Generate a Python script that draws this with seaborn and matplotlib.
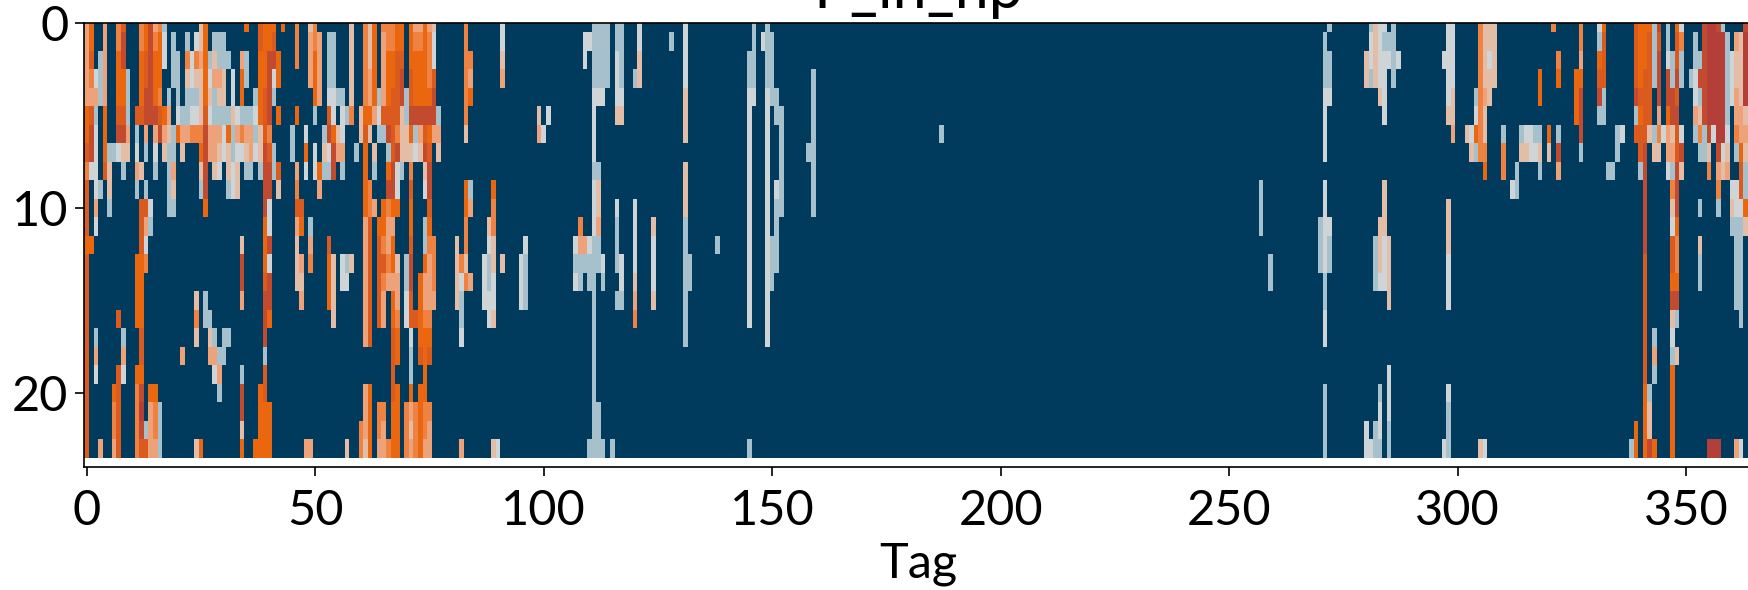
import numpy as np
import matplotlib
matplotlib.use("Agg")
import matplotlib.pyplot as plt
from matplotlib.colors import ListedColormap
import seaborn as sns

# Werte: (erster Tag, Stufen ab diesem Tag), 0 = kein Betrieb
hour_00 = [(0,"46"),(4,"4"),(7,"57"),(12,"568451"),(25,"36"),(35,"6"),(38,"7666"),(43,"6"),(46,"5"),(49,"35"),(58,"3"),(61,"536"),(65,"55566"),(71,"644643"),(83,"5"),(91,"2"),(111,"1111"),(116,"11"),(121,"2"),(131,"2"),(146,"1"),(149,"1"),(272,"1"),(281,"1322"),(286,"1"),(298,"22"),(305,"5333"),(321,"5"),(327,"5"),(331,"26"),(339,"7666"),(343,"18"),(346,"1"),(348,"62"),(354,"8998"),(358,"1"),(363,"8")]
hour_01 = [(0,"46"),(4,"4"),(7,"58"),(12,"568562"),(19,"1"),(22,"1"),(24,"236"),(28,"111"),(38,"7667"),(46,"5"),(49,"454"),(53,"11"),(58,"3"),(61,"536"),(65,"45566"),(71,"655652"),(83,"5"),(91,"2"),(109,"22"),(111,"1111"),(116,"11"),(121,"2"),(128,"1"),(131,"2"),(146,"1"),(148,"211"),(271,"1"),(281,"232111"),(298,"22"),(305,"5333"),(327,"5"),(331,"17"),(339,"76671"),(344,"7"),(346,"1"),(348,"75"),(352,"1"),(354,"899991"),(361,"4399")]
hour_02 = [(0,"47"),(3,"14"),(7,"68"),(12,"67866"),(17,"2"),(19,"11"),(22,"5254613111"),(34,"41"),(38,"66886"),(46,"5"),(49,"464"),(53,"11"),(58,"3"),(61,"536"),(65,"46677"),(71,"666652"),(83,"55"),(91,"3"),(109,"2"),(111,"1111"),(116,"21"),(121,"3"),(131,"2"),(145,"11"),(149,"11"),(271,"11"),(280,"32322212"),(297,"222"),(305,"5323"),(322,"5"),(327,"4"),(331,"67"),(339,"76671"),(344,"8"),(346,"2171"),(352,"1189999123399")]
hour_03 = [(0,"45214"),(7,"661"),(12,"67866"),(19,"11"),(22,"323362443"),(32,"2"),(34,"61"),(38,"66826"),(49,"464"),(53,"11"),(58,"3"),(61,"546"),(65,"46678"),(71,"766657"),(83,"54"),(91,"4"),(111,"1111"),(116,"21"),(120,"13"),(131,"2"),(145,"11"),(149,"11"),(159,"1"),(271,"11"),(280,"31322"),(286,"1"),(298,"22"),(305,"5333"),(318,"6"),(322,"6"),(326,"66"),(331,"77"),(339,"76771"),(344,"8"),(346,"8181"),(351,"12"),(353,"88"),(355,"9999"),(359,"12"),(361,"3399")]
hour_04 = [(0,"44414"),(7,"661"),(12,"68865"),(18,"1"),(20,"1"),(22,"111363133"),(32,"2"),(34,"6"),(37,"16781"),(50,"64"),(53,"2211"),(58,"3"),(61,"546"),(64,"146778"),(70,"1766668"),(83,"56"),(111,"222"),(116,"22"),(131,"3"),(145,"22"),(149,"211"),(159,"1"),(271,"22"),(283,"32"),(298,"23"),(304,"1543"),(318,"6"),(326,"68"),(331,"81"),(339,"8777"),(344,"8"),(346,"887"),(352,"21"),(354,"89999"),(359,"12"),(361,"4399")]
hour_05 = [(0,"671"),(4,"6"),(7,"771"),(11,"77888764"),(20,"211223721111321112678"),(42,"6"),(46,"6"),(50,"1"),(53,"72"),(56,"215"),(60,"3664"),(64,"27777318888881"),(83,"5"),(99,"3"),(101,"2"),(111,"2"),(116,"33"),(131,"3"),(145,"2"),(149,"2"),(151,"11"),(159,"1"),(271,"2"),(284,"2"),(298,"33"),(304,"253"),(326,"68"),(331,"11"),(339,"1677"),(344,"4"),(346,"688"),(352,"43"),(354,"89999"),(359,"1"),(361,"4432")]
hour_06 = [(0,"682"),(4,"6"),(7,"884"),(11,"1"),(13,"4"),(15,"48431644555844426145441375"),(45,"1"),(48,"2"),(52,"18632"),(60,"373"),(64,"11875336147644"),(83,"3"),(99,"42"),(111,"2"),(131,"3"),(145,"2"),(149,"2"),(152,"1"),(159,"1"),(187,"1"),(271,"2"),(299,"4"),(302,"32653"),(310,"1"),(314,"12211"),(320,"6"),(322,"1"),(327,"8"),(335,"12"),(339,"777"),(342,"31524372"),(352,"15182992"),(361,"5443")]
hour_07 = [(0,"782"),(4,"611233"),(11,"2"),(13,"1"),(15,"2"),(17,"311"),(21,"3"),(25,"68"),(27,"443231223423871"),(45,"1"),(48,"6"),(50,"2"),(52,"32844"),(59,"1"),(61,"6"),(63,"3"),(66,"1783332387"),(77,"3"),(111,"2"),(145,"2"),(149,"2"),(152,"1"),(158,"11"),(271,"2"),(303,"3155"),(310,"5"),(314,"33223"),(320,"3"),(322,"8"),(327,"1"),(335,"1"),(340,"78"),(343,"33"),(346,"4478"),(353,"113"),(357,"823"),(361,"1633")]
hour_08 = [(0,"522"),(4,"73"),(8,"1"),(11,"43"),(15,"1"),(18,"14"),(25,"38"),(28,"32"),(31,"323"),(35,"11"),(38,"18817"),(46,"4"),(48,"2"),(50,"26118"),(56,"1"),(61,"6"),(63,"1"),(66,"6821"),(71,"5"),(74,"38"),(111,"11"),(131,"3"),(145,"2"),(149,"2"),(152,"1"),(159,"1"),(306,"6"),(310,"5"),(313,"1"),(318,"1"),(322,"4"),(333,"11"),(340,"18"),(346,"2183"),(355,"5"),(357,"434"),(362,"71")]
hour_09 = [(0,"7021"),(5,"3"),(11,"1"),(13,"1"),(18,"13"),(25,"18"),(31,"123"),(39,"88"),(42,"3"),(46,"5"),(51,"4"),(61,"65"),(66,"882"),(71,"7"),(74,"28"),(83,"61"),(89,"6"),(111,"23"),(131,"3"),(145,"2"),(149,"2"),(151,"21"),(159,"1"),(257,"1"),(271,"2"),(284,"3"),(312,"21"),(341,"8"),(347,"58"),(357,"5"),(360,"2271")]
hour_10 = [(0,"704"),(5,"1"),(12,"772"),(18,"11"),(26,"6"),(39,"82"),(46,"77"),(61,"654"),(65,"6566"),(71,"6"),(75,"7"),(83,"64"),(89,"5"),(111,"23"),(116,"2"),(120,"2"),(131,"3"),(145,"2"),(149,"2"),(151,"11"),(159,"1"),(257,"1"),(271,"2"),(284,"3"),(298,"3"),(341,"8"),(347,"38"),(353,"1"),(357,"1"),(360,"3226")]
hour_11 = [(0,"702"),(12,"741"),(39,"62"),(46,"46"),(49,"1"),(61,"47"),(64,"6644"),(71,"6"),(74,"16"),(83,"5"),(88,"35"),(108,"5"),(111,"24"),(116,"1"),(120,"2"),(124,"3"),(131,"1"),(145,"2"),(149,"2"),(151,"1"),(257,"1"),(270,"122"),(283,"33"),(298,"3"),(341,"8"),(347,"26"),(360,"1113")]
hour_12 = [(0,"66"),(12,"72"),(34,"3"),(39,"68"),(46,"3"),(49,"4"),(53,"7"),(61,"47"),(64,"7546"),(71,"7"),(74,"155"),(81,"3"),(83,"5"),(88,"23"),(96,"2"),(107,"2442"),(111,"11"),(116,"1"),(120,"2"),(124,"2"),(131,"1"),(138,"1"),(145,"2"),(149,"211"),(270,"121"),(282,"1323"),(298,"3"),(341,"8"),(347,"75"),(353,"3"),(361,"11")]
hour_13 = [(0,"7"),(11,"665"),(34,"8"),(39,"62"),(46,"34"),(49,"5"),(53,"63"),(56,"213"),(61,"47"),(64,"77563"),(70,"18"),(74,"645"),(81,"353"),(87,"213"),(91,"3"),(95,"21"),(107,"1111112"),(116,"12"),(120,"2"),(124,"2"),(131,"11"),(145,"2"),(149,"211"),(259,"1"),(270,"121"),(282,"1323"),(298,"2"),(341,"7"),(347,"75"),(353,"1"),(361,"11")]
hour_14 = [(0,"7"),(11,"66"),(34,"8"),(39,"78"),(46,"33"),(53,"63"),(56,"22"),(61,"47"),(64,"75444"),(70,"18"),(73,"6445"),(81,"3254"),(87,"212"),(95,"21"),(107,"21011"),(113,"1"),(117,"2"),(120,"3"),(124,"2"),(131,"11"),(145,"2"),(149,"21"),(259,"1"),(271,"1"),(282,"1223"),(298,"2"),(341,"7"),(347,"66"),(353,"1"),(361,"11")]
hour_15 = [(0,"7"),(11,"66"),(24,"301"),(34,"4"),(39,"88"),(47,"4"),(53,"63"),(61,"47"),(64,"74"),(67,"64"),(70,"27"),(73,"6444"),(81,"31"),(87,"222"),(95,"21"),(111,"1"),(116,"11"),(120,"4"),(124,"3"),(131,"1"),(145,"2"),(149,"2"),(271,"1"),(285,"3"),(298,"2"),(341,"7"),(347,"88"),(361,"11")]
hour_16 = [(0,"7"),(7,"7"),(11,"66"),(24,"5011"),(39,"86"),(54,"3"),(61,"47"),(64,"74"),(67,"65"),(70,"277655"),(82,"1"),(88,"23"),(111,"1"),(120,"5"),(131,"1"),(145,"2"),(149,"2"),(271,"2"),(341,"7"),(347,"31"),(362,"1")]
hour_17 = [(0,"701"),(8,"1"),(12,"7"),(24,"3"),(27,"31"),(30,"11"),(39,"8"),(61,"47"),(67,"76"),(71,"2"),(73,"666"),(82,"2"),(111,"1"),(131,"1"),(149,"2"),(271,"2"),(341,"7"),(343,"1"),(347,"2")]
hour_18 = [(0,"704"),(8,"4"),(12,"7"),(21,"4"),(27,"4411"),(39,"1"),(67,"76"),(71,"1"),(73,"767"),(111,"1"),(341,"7"),(343,"4"),(347,"13")]
hour_19 = [(0,"702"),(7,"72"),(11,"66"),(28,"24"),(34,"1"),(39,"7"),(67,"7"),(71,"1"),(74,"6"),(111,"1"),(285,"2"),(341,"7"),(343,"1"),(347,"6")]
hour_20 = [(0,"7"),(6,"67"),(11,"58"),(14,"66"),(29,"1"),(34,"8"),(38,"67"),(61,"46"),(67,"76"),(71,"6"),(73,"66"),(111,"1"),(271,"1"),(283,"1"),(285,"2"),(298,"2"),(341,"61"),(347,"6")]
hour_21 = [(0,"7"),(6,"57"),(11,"59"),(14,"451"),(34,"8"),(38,"666"),(61,"46"),(64,"55"),(67,"66"),(70,"545655"),(111,"11"),(271,"1"),(283,"2"),(285,"2"),(298,"1"),(341,"63"),(347,"6")]
hour_22 = [(0,"7"),(6,"57"),(11,"581451"),(34,"3"),(38,"666"),(60,"546"),(64,"54"),(67,"66"),(70,"535654"),(111,"11"),(271,"1"),(280,"2"),(282,"12"),(285,"1"),(298,"1"),(339,"6"),(341,"63"),(347,"6")]
hour_23 = [(0,"7"),(3,"4"),(6,"47"),(11,"577441"),(24,"36"),(34,"6"),(37,"6666"),(48,"44"),(57,"3"),(60,"536"),(64,"445"),(67,"66"),(70,"545644"),(82,"4"),(89,"32"),(110,"1111"),(115,"1"),(145,"1"),(271,"1"),(280,"2211"),(285,"1"),(297,"21"),(305,"32"),(338,"16"),(341,"686"),(347,"6"),(355,"999"),(361,"42")]

hours = [hour_00, hour_01, hour_02, hour_03, hour_04, hour_05, hour_06, hour_07,
         hour_08, hour_09, hour_10, hour_11, hour_12, hour_13, hour_14, hour_15,
         hour_16, hour_17, hour_18, hour_19, hour_20, hour_21, hour_22, hour_23]

level_colors = ["#003A5C", "#A6C0CC", "#CFD4D6", "#E3BDA6", "#EDA27A",
                "#EF8240", "#EA660F", "#DB5A1E", "#C24A2E", "#B43F38"]

x_ticks = [0, 50, 100, 150, 200, 250, 300, 350]
y_ticks = [0, 10, 20]

# Matrix Stunde x Tag aufbauen
P_in_hp = np.zeros((24, 365))
for h, runs in enumerate(hours):
    for start, levels in runs:
        for i, lv in enumerate(levels):
            P_in_hp[h, start + i] = int(lv)

sns.set_style("ticks")
plt.rcParams['font.family'] = ['Lato', 'DejaVu Sans']

W, H = 1749, 590
fig = plt.figure(figsize=(W / 100, H / 100), dpi=100)
# Achse ragt rechts etwas ueber den Bildrand hinaus, Titel wird oben abgeschnitten
ax = fig.add_axes([84.4 / W, 1 - 467 / H, (1752.5 - 84.4) / W, 444 / H])

sns.heatmap(P_in_hp, ax=ax, cmap=ListedColormap(level_colors), vmin=-0.5, vmax=9.5,
            cbar=False, xticklabels=False, yticklabels=False)

# Heatmap-Zellen liegen zwischen den Ganzzahlen, Ticks auf die Zellmitte
ax.set_xlim(0, 365)
ax.set_ylim(24.5, 0.5)
ax.set_xticks(np.array(x_ticks) + 0.5, labels=[str(t) for t in x_ticks])
ax.set_yticks(np.array(y_ticks) + 0.5, labels=[str(t) for t in y_ticks], rotation=0)
ax.tick_params(labelsize=35, length=6.5, width=1.2, color="black", labelcolor="black")
ax.tick_params(axis="x", pad=9.5)
ax.tick_params(axis="y", pad=5)

for side in ["left", "bottom", "top"]:
    ax.spines[side].set_visible(True)
    ax.spines[side].set_color("black")
    ax.spines[side].set_linewidth(1.2)

ax.set_title("P_in_hp", fontsize=44, color="black", pad=11)
ax.set_xlabel("Tag", fontsize=35, color="black", labelpad=6.5)
ax.set_ylabel("")

fig.savefig("out.png", dpi=100)
